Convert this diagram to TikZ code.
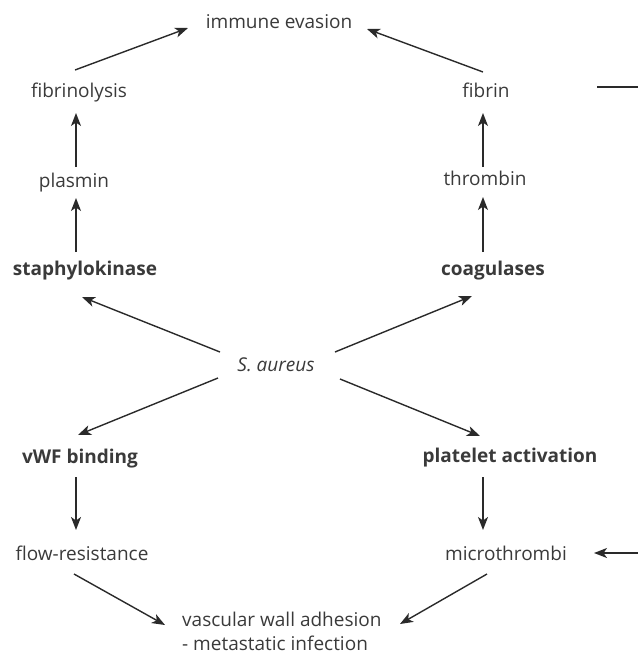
\documentclass[tikz,border=0pt]{standalone}
\usepackage{fontspec}
\setmainfont{Open Sans}
\usetikzlibrary{arrows.meta}
\definecolor{txt}{HTML}{3A3A3A}
\definecolor{lncol}{HTML}{2A2A2A}
\tikzset{
  lbl/.style={text=txt, font=\fontsize{19}{24}\selectfont, inner sep=0pt},
  blbl/.style={lbl, font=\fontsize{19}{24}\selectfont\bfseries},
  arr/.style={draw=lncol, line width=1.4pt, -{Stealth[length=13pt,width=10pt,inset=3.5pt]}},
  ln/.style={draw=lncol, line width=1.4pt}
}
\begin{document}
\begin{tikzpicture}[x=1pt,y=-1pt]
\useasboundingbox (0,0) rectangle (638,657);
\node[lbl] (ie) at (279,22) {immune evasion};
\node[lbl] (fl) at (79,93) {fibrinolysis};
\node[lbl] (fi) at (486,90) {fibrin};
\node[lbl] (pl) at (74,183) {plasmin};
\node[lbl] (th) at (485,178) {thrombin};
\node[blbl] (sk) at (85,271) {staphylokinase};
\node[blbl] (co) at (493,271) {coagulases};
\node[lbl, font=\fontsize{19}{24}\selectfont\itshape] (sa) at (276,365) {S. aureus};
\node[blbl] (vw) at (80,459) {vWF binding};
\node[blbl] (pa) at (510,458) {platelet activation};
\node[lbl] (fr) at (82,553) {flow-resistance};
\node[lbl] (mt) at (506,553) {microthrombi};
\node[lbl, align=left, anchor=west] (va) at (182,631) {vascular wall adhesion\\- metastatic infection};
\coordinate (fo1) at (597,87);
\coordinate (fo2) at (638,87);
\coordinate (mi1) at (638,553);
\coordinate (mi2) at (594,553);

\draw[arr] ([shift={(-4,-23)}]fl.center) -- ([shift={(-91,6)}]ie.center);
\draw[arr] ([shift={(-3,-18)}]fi.center) -- ([shift={(88,7)}]ie.center);
\draw[arr] ([shift={(2,-16)}]pl.center) -- ([shift={(-3,20)}]fl.center);
\draw[arr] ([shift={(-9,-19)}]sk.center) -- ([shift={(2,15)}]pl.center);
\draw[arr] ([shift={(-2,-11)}]th.center) -- ([shift={(-3,23)}]fi.center);
\draw[arr] ([shift={(-10,-19)}]co.center) -- ([shift={(-2,19)}]th.center);
\draw[arr] ([shift={(-56,-13)}]sa.center) -- ([shift={(-3,26)}]sk.center);
\draw[arr] ([shift={(59,-13)}]sa.center) -- ([shift={(-21,25)}]co.center);
\draw[arr] ([shift={(-58,13)}]sa.center) -- ([shift={(-2,-24)}]vw.center);
\draw[arr] ([shift={(64,14)}]sa.center) -- ([shift={(-30,-22)}]pa.center);
\draw[arr] ([shift={(-4,18)}]vw.center) -- ([shift={(-6,-23)}]fr.center);
\draw[arr] ([shift={(-27,19)}]pa.center) -- ([shift={(-23,-23)}]mt.center);
\draw[arr] ([shift={(-8,21)}]fr.center) -- ([shift={(-17,-6)}]va.west);
\draw[arr] ([shift={(-19,21)}]mt.center) -- ([shift={(218,-7)}]va.west);
\draw[ln] (fo1) -- (fo2);
\draw[arr] (mi1) -- (mi2);
\end{tikzpicture}
\end{document}
